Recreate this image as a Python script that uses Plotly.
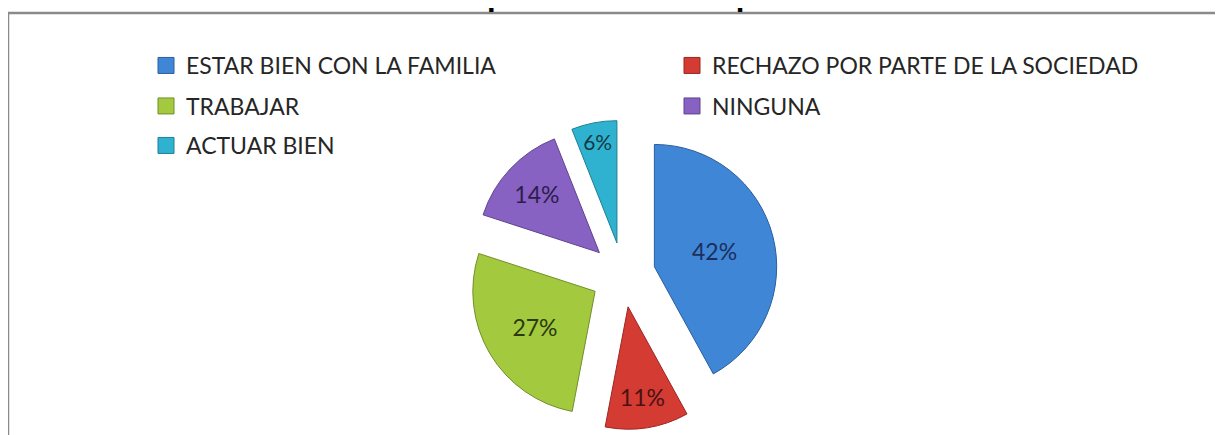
import plotly.graph_objects as go

categories = ["ESTAR BIEN CON LA FAMILIA", "RECHAZO POR PARTE DE LA SOCIEDAD",
              "TRABAJAR", "NINGUNA", "ACTUAR BIEN"]
values = [42, 11, 27, 14, 6]
colors = ["#3F86D6", "#D43B33", "#A3C93F", "#8862C2", "#2FB2CF"]
edge_colors = ["#2B5E9E", "#9A2722", "#728F28", "#5E4390", "#1F7F94"]
label_colors = ["#1C2F5C", "#4A1212", "#2A3A0E", "#2C1D4C", "#133A45"]
title_text = "Gráfica 3. Preocupaciones al recuperar la libertad"

# the page body adds an 8px margin; the figure is sized to fit the window
OFF = 8
W, H = 1223 - OFF, 435 - OFF


def px_x(x):
    return (x - OFF) / W


def px_y(y):
    return 1 - (y - OFF) / H


fig = go.Figure()

cx, cy, R = 623, 274.8, 155
fig.add_trace(go.Pie(
    labels=categories,
    values=values,
    sort=False,
    direction="clockwise",
    rotation=0,
    pull=[0.265] * len(values),
    marker=dict(colors=colors, line=dict(color=edge_colors, width=1)),
    textinfo="percent",
    textposition="inside",
    insidetextorientation="horizontal",
    insidetextfont=dict(family="Lato", size=23, color=label_colors),
    showlegend=False,
    domain=dict(x=[px_x(cx - R), px_x(cx + R)],
                y=[px_y(cy + R - 0.3), px_y(cy - R + 0.3)]),
    hoverinfo="label+percent",
))

# legend entries (two columns, three rows)
legend_rows = ["legend", "legend", "legend2", "legend2", "legend3"]
for name, col, ec, lg in zip(categories, colors, edge_colors, legend_rows):
    fig.add_trace(go.Scatter(
        x=[None], y=[None], mode="markers", name=name,
        marker=dict(symbol="square", size=16, color=col,
                    line=dict(color=ec, width=1)),
        legend=lg, hoverinfo="skip",
    ))

row_y = [65.5, 106, 145.5]
leg_common = dict(orientation="h", xanchor="left", yanchor="middle",
                  x=px_x(186 - 40), entrywidth=481, entrywidthmode="pixels",
                  bgcolor="rgba(0,0,0,0)", borderwidth=0,
                  font=dict(family="Lato", size=23, color="#262626"),
                  itemclick=False, itemdoubleclick=False)

fig.update_layout(
    width=W, height=H,
    margin=dict(l=0, r=0, t=0, b=0),
    paper_bgcolor="white", plot_bgcolor="white",
    xaxis=dict(visible=False), yaxis=dict(visible=False),
    legend=dict(y=px_y(row_y[0]), **leg_common),
    legend2=dict(y=px_y(row_y[1]), **leg_common),
    legend3=dict(y=px_y(row_y[2]), **leg_common),
    shapes=[
        dict(type="line", xref="paper", yref="paper",
             x0=px_x(8), x1=1, y0=px_y(13), y1=px_y(13),
             line=dict(color="#8a8a8a", width=2.5)),
        dict(type="line", xref="paper", yref="paper",
             x0=px_x(8), x1=px_x(8), y0=0, y1=px_y(13),
             line=dict(color="#8a8a8a", width=2.5)),
    ],
    annotations=[dict(
        text="<b>" + title_text + "</b>", xref="paper", yref="paper",
        x=px_x(600), y=px_y(4.5 - 12.6), xanchor="center", yanchor="middle",
        showarrow=False, font=dict(family="Lato", size=35, color="black"),
    )],
)

fig.write_html("out.html")
